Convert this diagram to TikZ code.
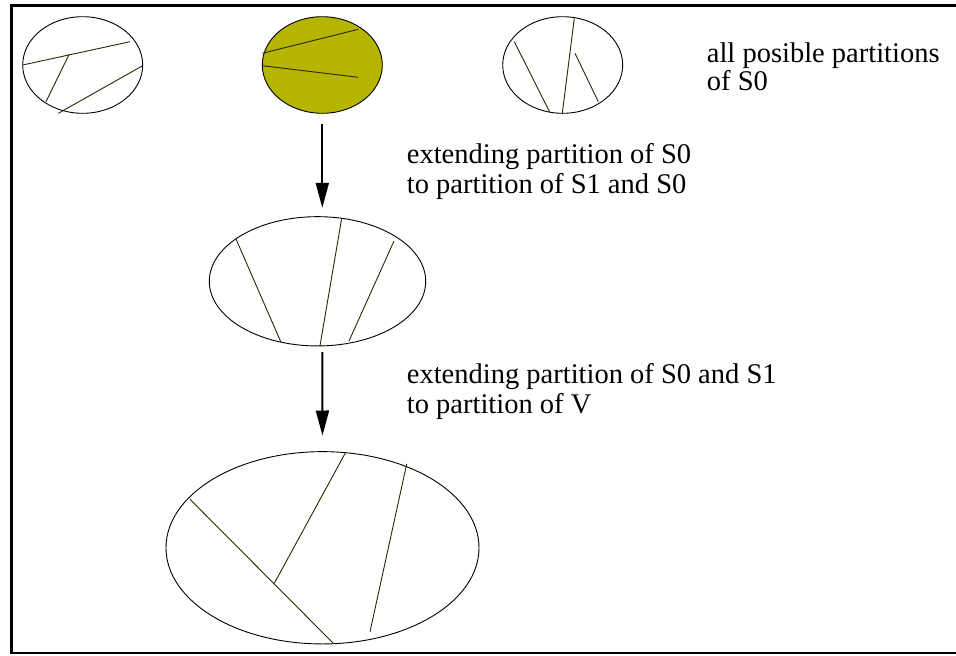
\documentclass[tikz,border=0pt]{standalone}
\usepackage{fontspec}
\setmainfont{Liberation Serif}
\usetikzlibrary{shapes.geometric, arrows.meta}
\definecolor{setfill}{RGB}{181,181,0}
\definecolor{cutcol}{RGB}{40,40,0}
\tikzstyle{set} = [ellipse, draw=black, line width=0.9pt, inner sep=0pt]
\tikzstyle{cut} = [line width=0.9pt, draw=cutcol]
\tikzstyle{arrow} = [line width=2pt, -{Triangle[length=25pt, width=13pt]}]
\tikzstyle{note} = [anchor=base west, align=left, inner sep=0pt, font=\fontsize{28.5}{30}\selectfont]
\tikzstyle{frame} = [line width=2.5pt, draw=black]

\begin{document}
\begin{tikzpicture}[x=1pt, y=-1pt]
    \useasboundingbox (0,0) rectangle (956,656);
    \clip (0,0) rectangle (956,656);
    \draw [frame] (11.3,5.7) rectangle (975,653);

    % Nodes
    \node (s1) [set, minimum width=120pt, minimum height=96.6pt] at (82.7,65) {};
    \node (s2) [set, fill=setfill, minimum width=120pt, minimum height=96.6pt] at (322.3,65) {};
    \node (s3) [set, minimum width=120pt, minimum height=96.6pt] at (562.7,65) {};
    \node (mid) [set, minimum width=216.4pt, minimum height=129.3pt] at (317.5,281.3) {};
    \node (all) [set, minimum width=313pt, minimum height=192.3pt] at (322.5,547.8) {};

    % Partitions
    \draw [cut] (22.7,65) -- (130,41.7);
    \draw [cut] (69.3,54) -- (46,101.7);
    \draw [cut] (142.7,65.7) -- (58.3,113.3);
    \draw [cut] (262.3,53.3) -- (358.3,29.3);
    \draw [cut] (262.3,65.7) -- (358.3,77.3);
    \draw [cut] (514.3,41.7) -- (550,112.7);
    \draw [cut] (574.3,18.3) -- (562.3,113.3);
    \draw [cut] (575,53.3) -- (598.3,101.7);
    \draw [cut] (236,239) -- (281,342.3);
    \draw [cut] (341.7,218.3) -- (320,345.7);
    \draw [cut] (394,241) -- (349,341);
    \draw [cut] (190,499.3) -- (333.3,643.3);
    \draw [cut] (345.7,452.3) -- (274.3,583.3);
    \draw [cut] (406.7,464) -- (370,631.7);

    % Labels (base = last line)
    \node (t0) [note, font=\fontsize{28.5}{23}\selectfont] at (706.7,90) {all posible partitions\\of S0};
    \node (t1) [note] at (406.7,193.3) {extending partition of S0\\to partition of S1 and S0};
    \node (t2) [note] at (406.7,413.3) {extending partition of S0 and S1\\to partition of V};

    % Arrows
    \draw [arrow, shorten <=10pt, shorten >=8.4pt] (s2.south) -- (s2.south |- mid.north);
    \draw [arrow, shorten <=5.7pt, shorten >=15.7pt] (s2.south |- mid.south) -- (all.north);

\end{tikzpicture}
\end{document}
